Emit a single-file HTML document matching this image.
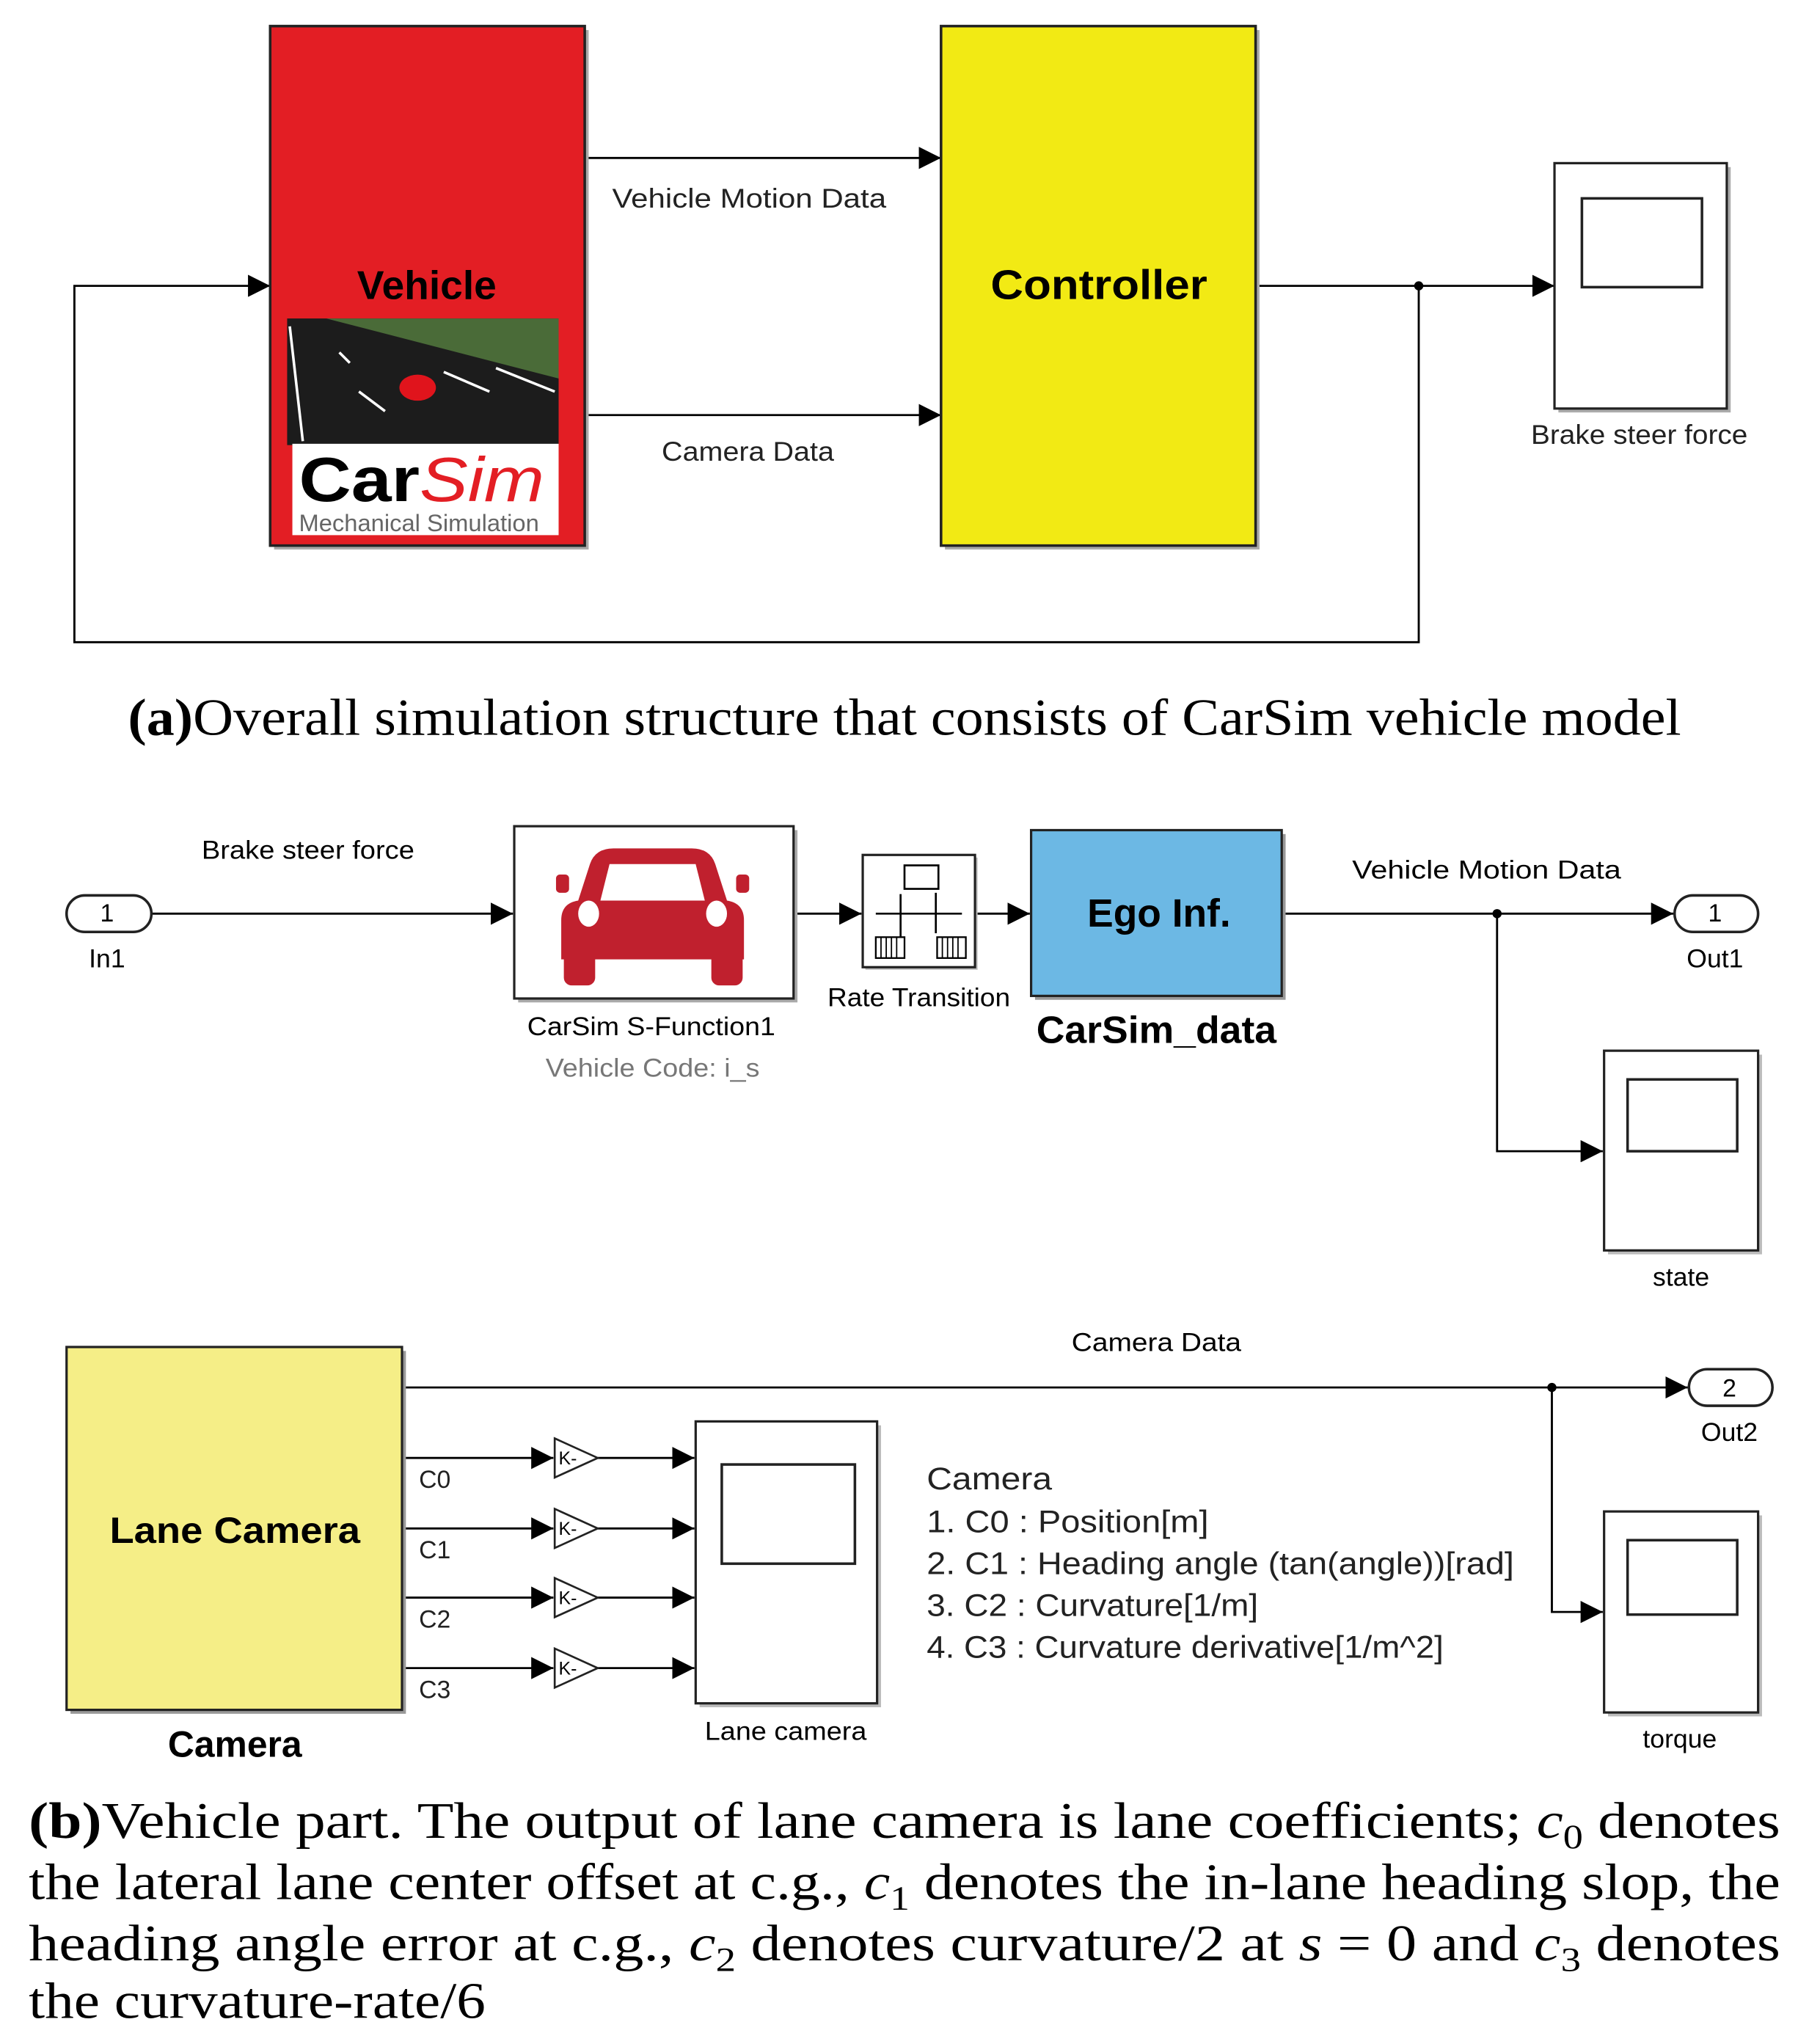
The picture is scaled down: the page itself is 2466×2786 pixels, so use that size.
<!DOCTYPE html>
<html><head><meta charset="utf-8"><style>
html,body{margin:0;padding:0;background:#fff}
svg{display:block}
.s{font-family:"Liberation Sans",sans-serif}
.r{font-family:"Liberation Serif",serif}
</style></head><body>
<svg width="2466" height="2786" viewBox="0 0 1386 1566" preserveAspectRatio="none" xmlns="http://www.w3.org/2000/svg">
<defs>
<marker id="b" viewBox="0 0 10 10" refX="10" refY="5" markerWidth="17" markerHeight="17" markerUnits="userSpaceOnUse" orient="auto"><path d="M0,0L10,5L0,10z" fill="#000"/></marker>
</defs>
<rect width="1386" height="1566" fill="#fff"/>
<g stroke="#000" stroke-width="1.6" fill="none">
<line x1="448" y1="121" x2="721" y2="121" marker-end="url(#b)"/>
<line x1="448" y1="318" x2="721" y2="318" marker-end="url(#b)"/>
<line x1="962" y1="219" x2="1191" y2="219" marker-end="url(#b)"/>
<polyline points="1087,219 1087,492 57,492 57,219 207,219" marker-end="url(#b)"/>
</g>
<circle cx="1087" cy="219" r="3.5"/>
<rect x="210" y="23" width="241" height="398" fill="#aaa"/>
<rect x="207" y="20" width="241" height="398" fill="#e31e24" stroke="#222" stroke-width="2"/>
<text x="327" y="229" class="s" font-size="31" font-weight="bold" text-anchor="middle">Vehicle</text>
<rect x="220" y="244" width="208" height="97" fill="#1c1c1c"/>
<polygon points="250,244 428,244 428,290" fill="#4a6b38"/>
<g stroke="#fff" stroke-width="2"><line x1="222" y1="250" x2="232" y2="338"/><line x1="275" y1="300" x2="295" y2="315"/><line x1="340" y1="285" x2="375" y2="300"/><line x1="380" y1="282" x2="425" y2="300"/><line x1="260" y1="270" x2="268" y2="278"/></g>
<ellipse cx="320" cy="297" rx="14" ry="10" fill="#e0141c"/>
<rect x="224" y="340" width="204" height="70" fill="#fff"/>
<text x="229" y="384" class="s" font-size="48" font-weight="bold" fill="#000" textLength="188" lengthAdjust="spacingAndGlyphs">Car<tspan fill="#e31e24" font-style="italic" font-weight="normal">Sim</tspan></text>
<text x="229" y="407" class="s" font-size="18" fill="#666" textLength="184" lengthAdjust="spacingAndGlyphs">Mechanical Simulation</text>
<rect x="724" y="23" width="241" height="398" fill="#aaa"/>
<rect x="721" y="20" width="241" height="398" fill="#f2ea14" stroke="#222" stroke-width="2"/>
<text x="842" y="229" class="s" font-size="32" font-weight="bold" text-anchor="middle" textLength="166" lengthAdjust="spacingAndGlyphs">Controller</text>
<text x="574" y="159" class="s" font-size="21" text-anchor="middle" fill="#222" textLength="210" lengthAdjust="spacingAndGlyphs">Vehicle Motion Data</text>
<text x="573" y="353" class="s" font-size="21" text-anchor="middle" fill="#222" textLength="132" lengthAdjust="spacingAndGlyphs">Camera Data</text>
<rect x="1194" y="128" width="132" height="188" fill="#aaa"/>
<rect x="1191" y="125" width="132" height="188" fill="#fff" stroke="#222" stroke-width="1.8"/>
<rect x="1212" y="152" width="92" height="68" fill="#fff" stroke="#222" stroke-width="2"/>
<text x="1256" y="340" class="s" font-size="21" text-anchor="middle" fill="#222" textLength="166" lengthAdjust="spacingAndGlyphs">Brake steer force</text>
<text x="693" y="563" class="r" font-size="40" textLength="1190" lengthAdjust="spacingAndGlyphs" text-anchor="middle"><tspan font-weight="bold">(a)</tspan>Overall simulation structure that consists of CarSim vehicle model</text>

<g stroke="#000" stroke-width="1.6" fill="none">
<line x1="116" y1="700" x2="393" y2="700" marker-end="url(#b)"/>
<line x1="608" y1="700" x2="660" y2="700" marker-end="url(#b)"/>
<line x1="747" y1="700" x2="789" y2="700" marker-end="url(#b)"/>
<line x1="982" y1="700" x2="1282" y2="700" marker-end="url(#b)"/>
<polyline points="1147,700 1147,882 1228,882" marker-end="url(#b)"/>
<line x1="308" y1="1063" x2="1293" y2="1063" marker-end="url(#b)"/>
<polyline points="1189,1063 1189,1235 1228,1235" marker-end="url(#b)"/>
<line x1="308" y1="1117" x2="424" y2="1117" marker-end="url(#b)"/>
<line x1="308" y1="1171" x2="424" y2="1171" marker-end="url(#b)"/>
<line x1="308" y1="1224" x2="424" y2="1224" marker-end="url(#b)"/>
<line x1="308" y1="1278" x2="424" y2="1278" marker-end="url(#b)"/>
<line x1="458" y1="1117" x2="532" y2="1117" marker-end="url(#b)"/>
<line x1="458" y1="1171" x2="532" y2="1171" marker-end="url(#b)"/>
<line x1="458" y1="1224" x2="532" y2="1224" marker-end="url(#b)"/>
<line x1="458" y1="1278" x2="532" y2="1278" marker-end="url(#b)"/>
</g>
<circle cx="1147" cy="700" r="3.5"/><circle cx="1189" cy="1063" r="3.5"/>
<rect x="51" y="686" width="65" height="28" rx="14" fill="#fff" stroke="#222" stroke-width="2"/>
<text x="82" y="706" class="s" font-size="19" text-anchor="middle">1</text>
<text x="82" y="741" class="s" font-size="20" text-anchor="middle">In1</text>
<rect x="1283" y="686" width="64" height="28" rx="14" fill="#fff" stroke="#222" stroke-width="2"/>
<text x="1314" y="706" class="s" font-size="19" text-anchor="middle">1</text>
<text x="1314" y="741" class="s" font-size="20" text-anchor="middle">Out1</text>
<rect x="1294" y="1049" width="64" height="28" rx="14" fill="#fff" stroke="#222" stroke-width="2"/>
<text x="1325" y="1070" class="s" font-size="19" text-anchor="middle">2</text>
<text x="1325" y="1104" class="s" font-size="20" text-anchor="middle">Out2</text>
<text x="236" y="658" class="s" font-size="20" text-anchor="middle" textLength="163" lengthAdjust="spacingAndGlyphs">Brake steer force</text>
<rect x="397" y="636" width="214" height="132" fill="#aaa"/>
<rect x="394" y="633" width="214" height="132" fill="#fff" stroke="#222" stroke-width="1.8"/>
<g fill="#c0202e">
<path d="M452,662 Q456,650 470,650 L530,650 Q544,650 548,662 L557,690 Q570,692 570,705 L570,735 L430,735 L430,705 Q430,692 443,690 Z"/>
<rect x="432" y="725" width="24" height="30" rx="6"/><rect x="545" y="725" width="24" height="30" rx="6"/>
<rect x="426" y="670" width="10" height="14" rx="3"/><rect x="564" y="670" width="10" height="14" rx="3"/>
</g>
<path d="M460,690 L467,662 L533,662 L540,690 Z" fill="#fff"/>
<ellipse cx="451" cy="700" rx="8" ry="10" fill="#fff"/><ellipse cx="549" cy="700" rx="8" ry="10" fill="#fff"/>
<text x="499" y="793" class="s" font-size="20" text-anchor="middle" textLength="190" lengthAdjust="spacingAndGlyphs">CarSim S-Function1</text>
<text x="500" y="825" class="s" font-size="20" text-anchor="middle" fill="#777" textLength="164" lengthAdjust="spacingAndGlyphs">Vehicle Code: i_s</text>
<rect x="663" y="657" width="86" height="86" fill="#bbb"/>
<rect x="661" y="655" width="86" height="86" fill="#fff" stroke="#222" stroke-width="1.8"/>
<rect x="693" y="663" width="26" height="18" fill="#fff" stroke="#000" stroke-width="1.5"/>
<line x1="671" y1="700" x2="737" y2="700" stroke="#000" stroke-width="1.5"/>
<line x1="690" y1="720" x2="690" y2="685" stroke="#000" stroke-width="1.5"/><line x1="717" y1="684" x2="717" y2="715" stroke="#000" stroke-width="1.5"/>
<rect x="671" y="718" width="22" height="16" fill="#fff" stroke="#000" stroke-width="1.3"/><rect x="718" y="718" width="22" height="16" fill="#fff" stroke="#000" stroke-width="1.3"/>
<g stroke="#000" stroke-width="1"><line x1="675" y1="718" x2="675" y2="734"/><line x1="679" y1="718" x2="679" y2="734"/><line x1="683" y1="718" x2="683" y2="734"/><line x1="687" y1="718" x2="687" y2="734"/><line x1="722" y1="718" x2="722" y2="734"/><line x1="726" y1="718" x2="726" y2="734"/><line x1="730" y1="718" x2="730" y2="734"/><line x1="734" y1="718" x2="734" y2="734"/></g>
<text x="704" y="771" class="s" font-size="20" text-anchor="middle" textLength="140" lengthAdjust="spacingAndGlyphs">Rate Transition</text>
<rect x="793" y="639" width="192" height="127" fill="#999"/>
<rect x="790" y="636" width="192" height="127" fill="#6cb8e4" stroke="#222" stroke-width="1.8"/>
<text x="888" y="710" class="s" font-size="30" font-weight="bold" text-anchor="middle">Ego Inf.</text>
<text x="886" y="799" class="s" font-size="29" font-weight="bold" text-anchor="middle" textLength="184" lengthAdjust="spacingAndGlyphs">CarSim_data</text>
<text x="1139" y="673" class="s" font-size="20" text-anchor="middle" textLength="206" lengthAdjust="spacingAndGlyphs">Vehicle Motion Data</text>
<rect x="1232" y="808" width="118" height="153" fill="#bbb"/>
<rect x="1229" y="805" width="118" height="153" fill="#fff" stroke="#222" stroke-width="1.8"/>
<rect x="1247" y="827" width="84" height="55" fill="#fff" stroke="#222" stroke-width="2"/>
<text x="1288" y="985" class="s" font-size="20" text-anchor="middle">state</text>
<rect x="54" y="1035" width="257" height="278" fill="#999"/>
<rect x="51" y="1032" width="257" height="278" fill="#f5ee87" stroke="#222" stroke-width="1.8"/>
<text x="180" y="1182" class="s" font-size="28" font-weight="bold" text-anchor="middle" textLength="192" lengthAdjust="spacingAndGlyphs">Lane Camera</text>
<text x="180" y="1346" class="s" font-size="28" font-weight="bold" text-anchor="middle">Camera</text>
<text x="886" y="1035" class="s" font-size="20" text-anchor="middle" textLength="130" lengthAdjust="spacingAndGlyphs">Camera Data</text>
<g class="s" font-size="19" fill="#222"><text x="321" y="1140">C0</text><text x="321" y="1194">C1</text><text x="321" y="1247">C2</text><text x="321" y="1301">C3</text></g>
<g fill="#fff" stroke="#222" stroke-width="1.5">
<polygon points="425,1102 458,1117 425,1132"/><polygon points="425,1156 458,1171 425,1186"/><polygon points="425,1209 458,1224 425,1239"/><polygon points="425,1263 458,1278 425,1293"/>
</g>
<g class="s" font-size="14" fill="#000"><text x="428" y="1122">K-</text><text x="428" y="1176">K-</text><text x="428" y="1229">K-</text><text x="428" y="1283">K-</text></g>
<rect x="536" y="1092" width="139" height="216" fill="#bbb"/>
<rect x="533" y="1089" width="139" height="216" fill="#fff" stroke="#222" stroke-width="1.8"/>
<rect x="553" y="1122" width="102" height="76" fill="#fff" stroke="#222" stroke-width="2"/>
<text x="602" y="1333" class="s" font-size="20" text-anchor="middle" textLength="124" lengthAdjust="spacingAndGlyphs">Lane camera</text>
<g class="s" font-size="24" fill="#222">
<text x="710" y="1141" textLength="96" lengthAdjust="spacingAndGlyphs">Camera</text>
<text x="710" y="1174" textLength="216" lengthAdjust="spacingAndGlyphs">1. C0 : Position[m]</text>
<text x="710" y="1206" textLength="450" lengthAdjust="spacingAndGlyphs">2. C1 : Heading angle (tan(angle))[rad]</text>
<text x="710" y="1238" textLength="254" lengthAdjust="spacingAndGlyphs">3. C2 : Curvature[1/m]</text>
<text x="710" y="1270" textLength="396" lengthAdjust="spacingAndGlyphs">4. C3 : Curvature derivative[1/m^2]</text>
</g>
<rect x="1232" y="1161" width="118" height="154" fill="#bbb"/>
<rect x="1229" y="1158" width="118" height="154" fill="#fff" stroke="#222" stroke-width="1.8"/>
<rect x="1247" y="1180" width="84" height="57" fill="#fff" stroke="#222" stroke-width="2"/>
<text x="1287" y="1339" class="s" font-size="20" text-anchor="middle">torque</text>
<g class="r" font-size="39" fill="#000">
<text x="22" y="1408" textLength="1342" lengthAdjust="spacingAndGlyphs"><tspan font-weight="bold">(b)</tspan>Vehicle part.  The output of lane camera is lane coefficients; <tspan font-style="italic">c</tspan><tspan font-size="26" dy="8">0</tspan><tspan dy="-8"> denotes</tspan></text>
<text x="22" y="1455" textLength="1342" lengthAdjust="spacingAndGlyphs">the lateral lane center offset at c.g., <tspan font-style="italic">c</tspan><tspan font-size="26" dy="8">1</tspan><tspan dy="-8"> denotes the in-lane heading slop, the</tspan></text>
<text x="22" y="1502" textLength="1342" lengthAdjust="spacingAndGlyphs">heading angle error at c.g., <tspan font-style="italic">c</tspan><tspan font-size="26" dy="8">2</tspan><tspan dy="-8"> denotes curvature/2 at </tspan><tspan font-style="italic">s</tspan> = 0 and <tspan font-style="italic">c</tspan><tspan font-size="26" dy="8">3</tspan><tspan dy="-8"> denotes</tspan></text>
<text x="22" y="1546" textLength="350" lengthAdjust="spacingAndGlyphs">the curvature-rate/6</text>
</g>
</svg>
</body></html>
